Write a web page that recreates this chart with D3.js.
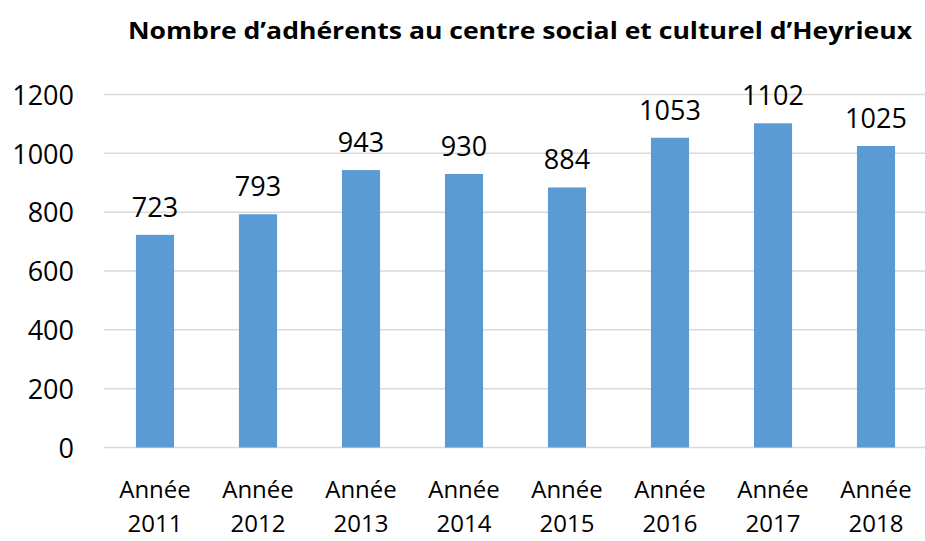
<!DOCTYPE html>
<meta charset="utf-8">
<head>
    <script src="https://d3js.org/d3.v7.min.js"></script>
    <style>
    body { margin: 0; background: white; }
    svg { font-family: "Open Sans", "Liberation Sans", sans-serif; }
    </style>
</head>
<body>
    <svg id="svgid" width="925" height="541"></svg>
    <script>
        // data
        var years = ["2011", "2012", "2013", "2014", "2015", "2016", "2017", "2018"];
        var members = [723, 793, 943, 930, 884, 1053, 1102, 1025];
        var yTicks = [0, 200, 400, 600, 800, 1000, 1200];

        var svg = d3.select("#svgid");

        var x = d3.scaleBand()
            .domain(years)
            .range([103.5, 927.5])
            .paddingInner(0.63)
            .paddingOuter(0.315);

        var y = d3.scaleLinear()
            .domain([0, 1200])
            .range([447.5, 94.5]);

        // gridlines
        svg.append("g")
            .selectAll("line")
            .data(yTicks)
            .join("line")
            .attr("x1", 104).attr("x2", 925)
            .attr("y1", function(d) { return y(d); })
            .attr("y2", function(d) { return y(d); })
            .style("stroke", "#d9d9d9")
            .style("stroke-width", 1.5);

        // y axis labels
        var yAxis = d3.axisLeft(y).tickValues(yTicks).tickFormat(d3.format("d")).tickSize(0).tickPadding(0);
        var gy = svg.append("g")
            .attr("transform", "translate(74,0)")
            .call(yAxis);
        gy.select(".domain").remove();
        gy.selectAll("text")
            .attr("dy", "0.36em")
            .style("font-size", "27px")
            .style("font-family", "'Open Sans', sans-serif")
            .style("fill", "#000");

        // bars
        svg.append("g")
            .selectAll("rect")
            .data(members)
            .join("rect")
            .attr("x", function(d, i) { return x(years[i]); })
            .attr("width", x.bandwidth())
            .attr("y", function(d) { return y(d); })
            .attr("height", function(d) { return y(0) - y(d); })
            .style("fill", "#5b9bd5");

        // value labels
        svg.append("g")
            .selectAll("text")
            .data(members)
            .join("text")
            .attr("x", function(d, i) { return x(years[i]) + x.bandwidth() / 2; })
            .attr("y", function(d) { return y(d) - 18; })
            .attr("text-anchor", "middle")
            .style("font-size", "27px")
            .text(function(d) { return d; });

        // x labels, two lines
        var gx = svg.append("g")
            .selectAll("text")
            .data(years)
            .join("text")
            .attr("text-anchor", "middle")
            .style("font-size", "24px");
        gx.append("tspan")
            .attr("x", function(d) { return x(d) + x.bandwidth() / 2; })
            .attr("y", 498)
            .text("Année");
        gx.append("tspan")
            .attr("x", function(d) { return x(d) + x.bandwidth() / 2; })
            .attr("y", 532)
            .text(function(d) { return d; });

        // title
        svg.append("text")
            .attr("x", 520)
            .attr("y", 39)
            .attr("text-anchor", "middle")
            .attr("textLength", 784)
            .attr("lengthAdjust", "spacingAndGlyphs")
            .style("font-size", "24px")
            .style("font-weight", "bold")
            .text("Nombre d’adhérents au centre social et culturel d’Heyrieux");
    </script>
</body>
